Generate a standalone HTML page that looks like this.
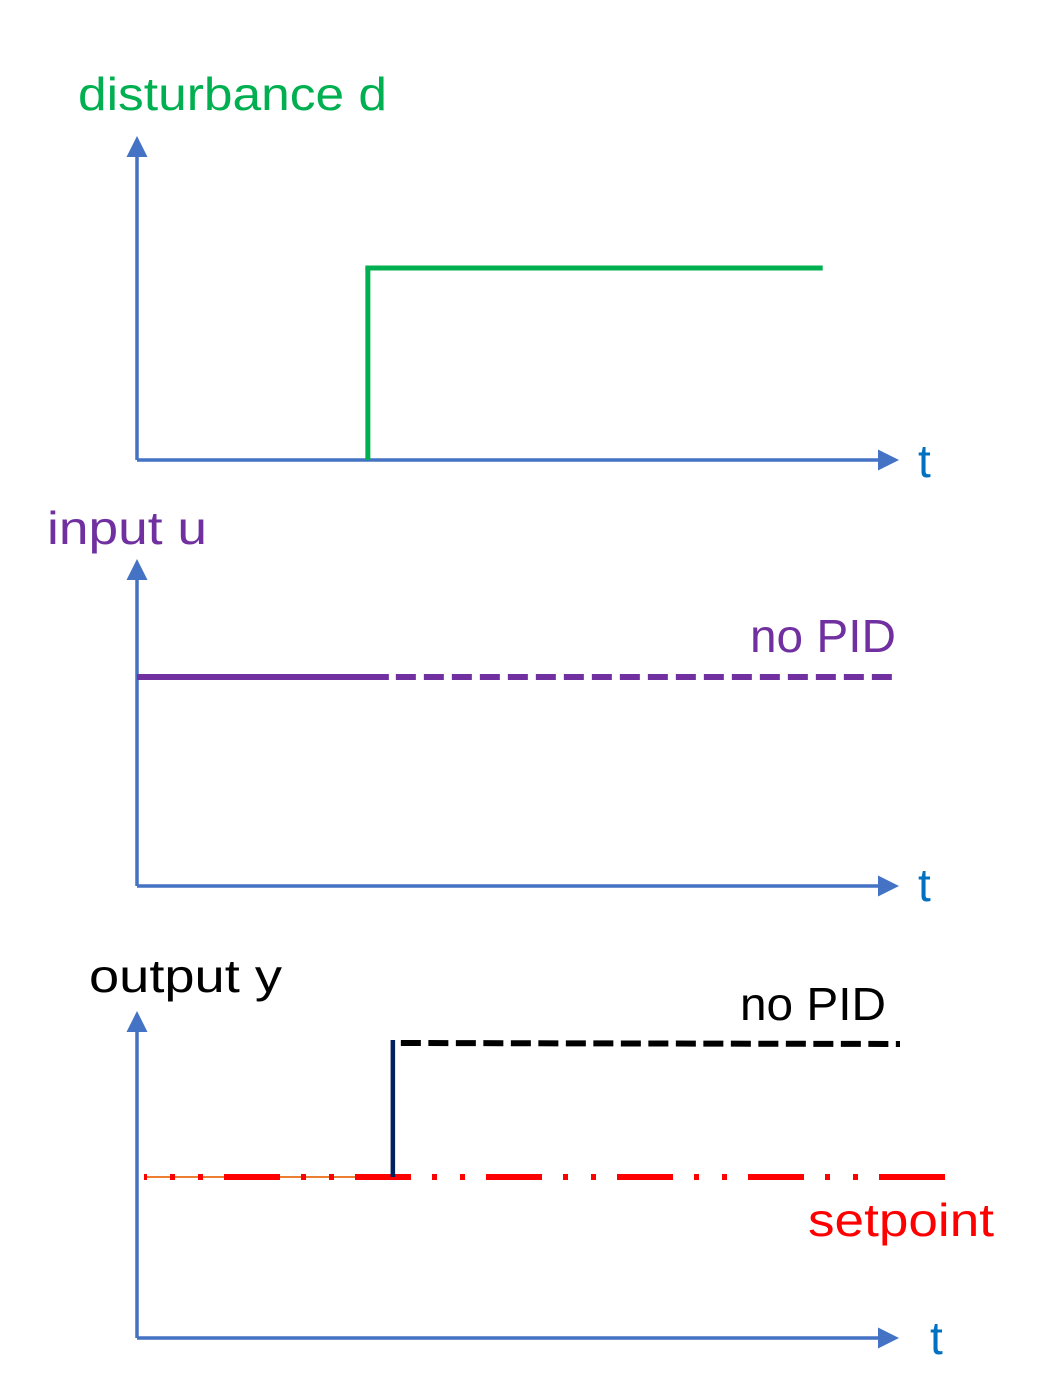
<!DOCTYPE html>
<html><head><meta charset="utf-8"><style>
html,body{margin:0;padding:0;background:#fff;}
svg{display:block;}
text{font-family:"Liberation Sans","DejaVu Sans",sans-serif;}
</style></head><body>
<svg id="fig" width="1046" height="1381" viewBox="0 0 1046 1381" xmlns="http://www.w3.org/2000/svg">
<defs>
<marker id="arr" markerWidth="6" markerHeight="6" refX="4" refY="3" orient="auto" markerUnits="strokeWidth"><path d="M0,0 L6,3 L0,6 z" fill="#4472C4"/></marker>
</defs>
<g id="axes"></g>
<g id="series"></g>
<text x="78" y="110" font-size="46" fill="#00B050" textLength="309" lengthAdjust="spacingAndGlyphs">disturbance d</text>
<text x="47" y="544" font-size="46" fill="#7030A0" textLength="160" lengthAdjust="spacingAndGlyphs">input u</text>
<text x="89" y="992" font-size="46" fill="#000" textLength="193" lengthAdjust="spacingAndGlyphs">output y</text>
<text x="750" y="652" font-size="46" fill="#7030A0" textLength="146" lengthAdjust="spacingAndGlyphs">no PID</text>
<text x="740" y="1020" font-size="46" fill="#000" textLength="146" lengthAdjust="spacingAndGlyphs">no PID</text>
<text x="808" y="1236" font-size="46" fill="#FF0000" textLength="186" lengthAdjust="spacingAndGlyphs">setpoint</text>
<text x="918" y="477" font-size="46" fill="#0070C0">t</text>
<text x="918" y="901" font-size="46" fill="#0070C0">t</text>
<text x="930" y="1354" font-size="46" fill="#0070C0">t</text>
</svg>
<script>
// time axis: t in [0,10]; values in [0,1]
var stepTime = [3.02];
var disturbance = [0, 1];       // before/after step
var inputU = [1, 1];            // no PID, constant
var outputY = [0, 1];           // no PID output
var setpoint = [0];
var tEnd = 8.97;
var NS = "http://www.w3.org/2000/svg";
var axes = document.getElementById('axes'), ser = document.getElementById('series');
function xs(t){ return 137 + t*(760-137)/8.15; }
var panels = [
  {y0:460, y1:268, top:135},
  {y0:886, y1:677, top:558},
  {y0:1177, y1:1043, top:1010, base:1338}
];
function ys(p, v){ return p.y0 + (p.y1-p.y0)*v; }
function line(parent,x1,y1,x2,y2,col,w,dash,name){
  var l=document.createElementNS(NS,'line');
  l.setAttribute('x1',x1);l.setAttribute('y1',y1);l.setAttribute('x2',x2);l.setAttribute('y2',y2);
  l.setAttribute('stroke',col);l.setAttribute('stroke-width',w);
  if(dash) l.setAttribute('stroke-dasharray',dash);
  
  
  parent.appendChild(l); return l;
}
var bases=[460,886,1338];
for(var i=0;i<3;i++){
  var a=line(axes,137,bases[i],137,panels[i].top+8,'#4472C4',3.5,null,'y-axis-'+(i+1));
  a.setAttribute('marker-end','url(#arr)');
  var b=line(axes,137,bases[i],892,bases[i],'#4472C4',3.5,null,'x-axis-'+(i+1));
  b.setAttribute('marker-end','url(#arr)');
}
var sx = xs(stepTime[0]);
// disturbance
var p=panels[0];
line(ser,sx,ys(p,disturbance[0]),sx,ys(p,disturbance[1]),'#00B050',5,null,'disturbance-step-rise');
line(ser,sx-2.5,ys(p,disturbance[1]),xs(tEnd),ys(p,disturbance[1]),'#00B050',5,null,'disturbance-step-level');
// input
p=panels[1];
line(ser,137,ys(p,inputU[0]),sx+21,ys(p,inputU[0]),'#7030A0',6,null,'input-before-step');
line(ser,sx+28,ys(p,inputU[1]),896,ys(p,inputU[1]),'#7030A0',6,'20 8','input-no-pid-dashed');
// output
p=panels[2];
line(ser,144,ys(p,setpoint[0]),400,ys(p,setpoint[0]),'#ED7D31',2,null,'setpoint-thin-underline');
var sp=line(ser,144,ys(p,setpoint[0]),945,ys(p,setpoint[0]),'#FF0000',6,null,'setpoint-line');
sp.setAttribute('stroke-dasharray','3 23 5 23 5 21 56 21 5 23 5 21 56 21 5 23 5 21 56 21 5 23 5 21 56 21 5 23 5 21 56 21 5 23 5 21 66');
line(ser,sx+25,ys(p,outputY[0]),sx+25,ys(p,outputY[1])-3,'#002060',4.5,null,'output-step-rise');
line(ser,sx+33,ys(p,outputY[1]),900,ys(p,outputY[1])+1,'#000',6,'20 7.5','output-no-pid-dashed');
</script>
</body></html>
